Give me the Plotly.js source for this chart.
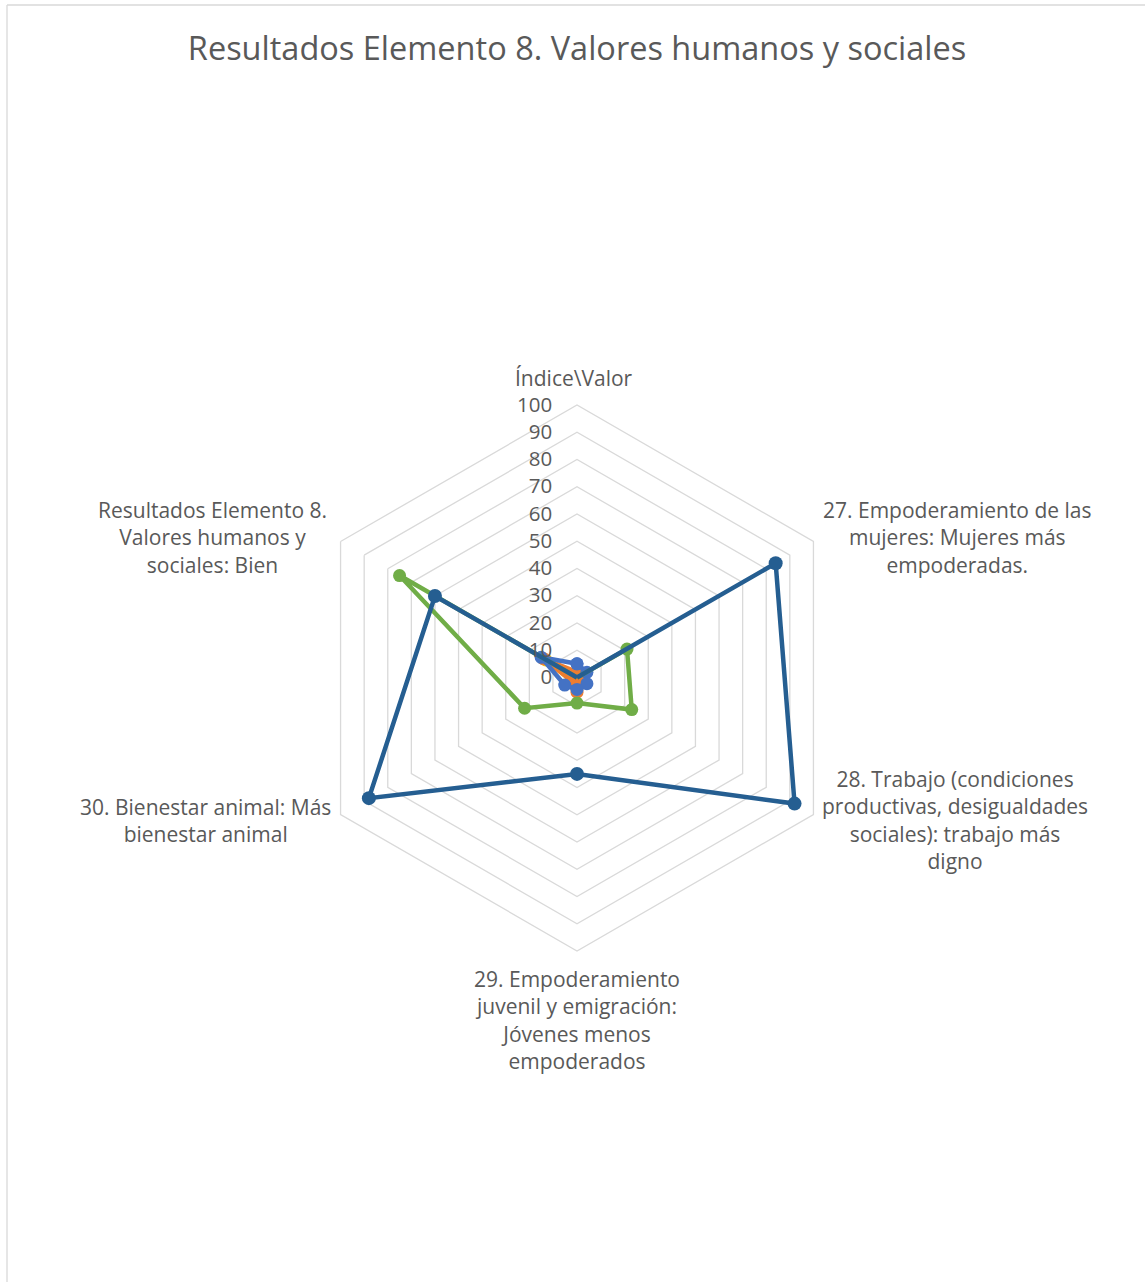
<!DOCTYPE html>
<html>
<head>
<meta charset="utf-8">
<script src="https://cdn.plot.ly/plotly-3.0.1.min.js"></script>
<style>html,body{margin:0;padding:0;background:#fff;}#chart{width:1145px;height:1282px;}</style>
</head>
<body>
<div id="chart"></div>
<script>
const categories = [
  "Índice\\Valor",
  "27. Empoderamiento de las<br>mujeres: Mujeres más<br>empoderadas.",
  "28. Trabajo (condiciones<br>productivas, desigualdades<br>sociales): trabajo más<br>digno",
  "29. Empoderamiento<br>juvenil y emigración:<br>Jóvenes menos<br>empoderados",
  "30. Bienestar animal: Más<br>bienestar animal",
  "Resultados Elemento 8.<br>Valores humanos y<br>sociales: Bien"
];
const seriesBlue   = [5, 4, 4, 4, 5, 15];
const seriesOrange = [2, 2, 2, 5, 2, 14];
const seriesGray   = [1, 1, 1, 4, 1, 14];
const seriesYellow = [1, 1, 1, 1, 2, 13];
const seriesGreen  = [0, 21, 23, 9, 22, 75];
const seriesDark   = [0, 84, 92, 35, 88, 60];
const radialTicks  = [0, 10, 20, 30, 40, 50, 60, 70, 80, 90, 100];
const chartTitle = "Resultados Elemento 8. Valores humanos y sociales";

function closed(a){ return a.concat([a[0]]); }
function trace(vals, color, lw, ms){
  return {
    type: 'scatterpolar', mode: 'lines+markers',
    r: closed(vals), theta: closed(categories),
    line: {color: color, width: lw},
    marker: {color: color, size: ms},
    showlegend: false, hoverinfo: 'r+theta'
  };
}
const data = [
  trace(seriesYellow, '#FFC000', 4.5, 13),
  trace(seriesGray, '#A5A5A5', 4.5, 13),
  trace(seriesOrange, '#ED7D31', 4.5, 13),
  trace(seriesBlue, '#4472C4', 4.5, 13),
  trace(seriesGreen, '#70AD47', 4.5, 13),
  trace(seriesDark, '#255E91', 4.5, 14)
];
const font = '"Open Sans", Lato, sans-serif';
const pad = '\u00A0\u00A0\u00A0\u00A0';
// centered category labels (Excel-style), placed outside each hexagon vertex
const labelPos = [
  {x: 574, y: 378}, {x: 957, y: 537}, {x: 955, y: 820},
  {x: 577, y: 1020}, {x: 206, y: 820}, {x: 212, y: 537}
];
const annotations = categories.map((c, i) => ({
  text: c, xref: 'paper', yref: 'paper',
  x: labelPos[i].x / 1145, y: 1 - labelPos[i].y / 1282,
  xanchor: 'center', yanchor: 'middle', align: 'center', showarrow: false,
  font: {family: font, size: 21, color: '#595959'}
}));
const layout = {
  width: 1145, height: 1282,
  margin: {l: 0, r: 0, t: 0, b: 0},
  paper_bgcolor: '#ffffff',
  font: {family: font, color: '#595959', size: 20},
  title: {text: chartTitle, x: 0.504, xanchor: 'center', y: 0.962, yanchor: 'middle',
          font: {family: font, size: 32.5, color: '#595959'}},
  polar: {
    domain: {x: [304/1145, 850/1145], y: [1 - 951/1282, 1 - 405/1282]},
    gridshape: 'linear',
    bgcolor: 'rgba(0,0,0,0)',
    angularaxis: {
      direction: 'clockwise', rotation: 90,
      showgrid: false, showline: true, linecolor: '#D9D9D9', linewidth: 1.3,
      ticks: '', showticklabels: false
    },
    radialaxis: {
      range: [-0.2, 100], tickvals: radialTicks, ticktext: radialTicks.map(v => String(v) + pad),
      angle: 90, tickangle: 90, side: 'counterclockwise',
      showline: false, ticks: '', showgrid: true, gridcolor: '#D9D9D9', gridwidth: 1.3,
      tickfont: {family: font, size: 20.5, color: '#595959'}
    }
  },
  annotations: annotations,
  shapes: [
    {type: 'line', xref: 'paper', yref: 'paper', x0: 7/1145, x1: 1, y0: 1 - 5/1282, y1: 1 - 5/1282,
     line: {color: '#D9D9D9', width: 1.3}},
    {type: 'line', xref: 'paper', yref: 'paper', x0: 7/1145, x1: 7/1145, y0: 0, y1: 1 - 5/1282,
     line: {color: '#D9D9D9', width: 1.3}}
  ]
};
Plotly.newPlot('chart', data, layout, {displayModeBar: false, staticPlot: true});
</script>
</body>
</html>
